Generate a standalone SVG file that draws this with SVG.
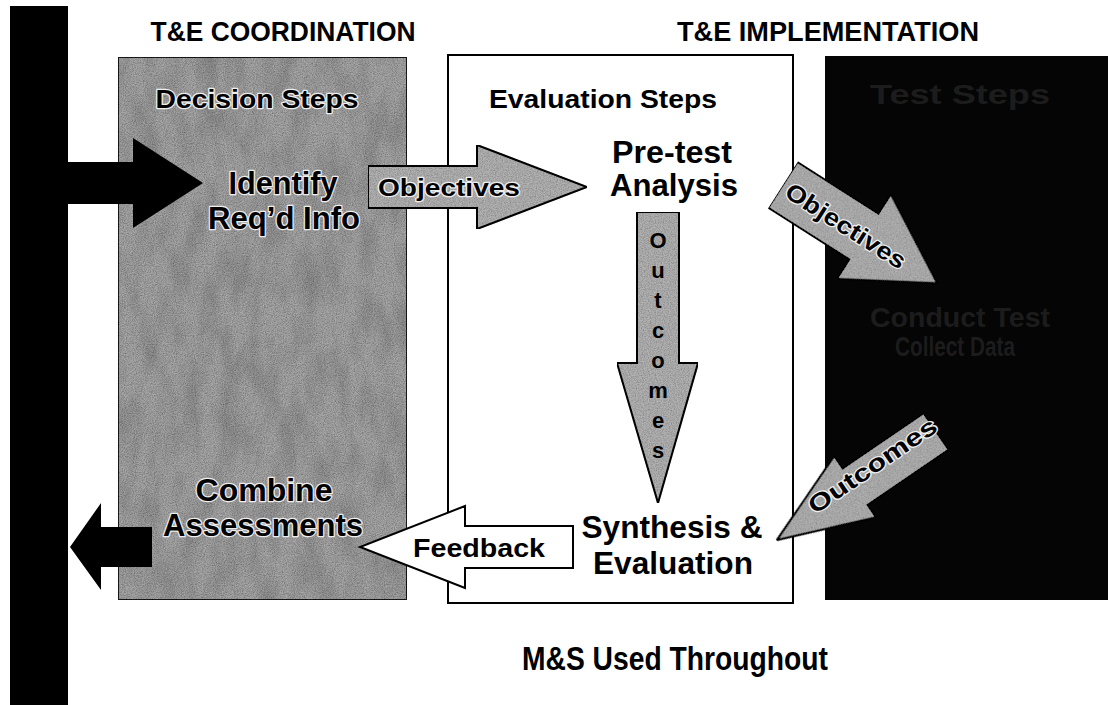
<svg xmlns="http://www.w3.org/2000/svg" width="1108" height="705" viewBox="0 0 1108 705">
<defs>
<filter id="grain" x="0" y="0" width="100%" height="100%">
<feTurbulence type="fractalNoise" baseFrequency="0.85" numOctaves="2" seed="4" result="n"/>
<feColorMatrix in="n" type="matrix" values="0 0 0 0 0  0 0 0 0 0  0 0 0 0 0  0.9 0 0 0 -0.3" result="d"/>
<feComposite in="d" in2="SourceGraphic" operator="in" result="dm"/>
<feMerge><feMergeNode in="SourceGraphic"/><feMergeNode in="dm"/></feMerge>
</filter>
<filter id="mottle" x="0" y="0" width="100%" height="100%">
<feTurbulence type="fractalNoise" baseFrequency="0.05 0.02" numOctaves="3" seed="7" result="m"/>
<feColorMatrix in="m" type="matrix" values="0 0 0 0 0  0 0 0 0 0  0 0 0 0 0  0.6 0 0 0 -0.22" result="md"/>
<feComposite in="md" in2="SourceGraphic" operator="in" result="mm"/>
<feTurbulence type="fractalNoise" baseFrequency="0.9" numOctaves="2" seed="2" result="n"/>
<feColorMatrix in="n" type="matrix" values="0 0 0 0 0  0 0 0 0 0  0 0 0 0 0  1.0 0 0 0 -0.3" result="d"/>
<feComposite in="d" in2="SourceGraphic" operator="in" result="dm"/>
<feMerge><feMergeNode in="SourceGraphic"/><feMergeNode in="mm"/><feMergeNode in="dm"/></feMerge>
</filter>
</defs>
<style>
text{font-family:"Liberation Sans",Arial,sans-serif;font-weight:bold;fill:#000}
.hdr{font-size:27px}
.halo{stroke:#eeeeee;stroke-width:2.5px;stroke-linejoin:round;paint-order:stroke}
.big{font-size:31px}
.mid{font-size:26px}
.lbl{font-size:24px}
.ltr{font-size:22px}
.faint{fill:#1c1c1c;font-size:27px}
.gray{fill:#b2b2b2;stroke:#000;stroke-width:2;filter:url(#grain)}
</style>
<rect width="1108" height="705" fill="#fff"/>

<g id="headers">
<text class="hdr" x="283" y="41" text-anchor="middle" textLength="265" lengthAdjust="spacingAndGlyphs">T&amp;E COORDINATION</text>
<text class="hdr" x="828" y="41" text-anchor="middle" textLength="302" lengthAdjust="spacingAndGlyphs">T&amp;E IMPLEMENTATION</text>
</g>

<g id="ms-bar">
<rect x="10" y="6" width="58" height="699" fill="#000"/>
</g>

<g id="decision-steps">
<rect x="118" y="57" width="289" height="543" fill="#a8a8a8" stroke="#222" stroke-width="2" filter="url(#mottle)"/>
<text class="mid halo" x="257" y="108" text-anchor="middle" textLength="203" lengthAdjust="spacingAndGlyphs">Decision Steps</text>
</g>

<g id="evaluation-steps">
<rect x="448" y="55" width="345" height="548" fill="#fff" stroke="#000" stroke-width="2"/>
<text class="mid" x="603" y="108" text-anchor="middle" textLength="228" lengthAdjust="spacingAndGlyphs">Evaluation Steps</text>
</g>

<g id="test-steps">
<rect x="825" y="56" width="283" height="544" fill="#050505"/>
<text class="faint" x="960" y="104" text-anchor="middle" textLength="180" lengthAdjust="spacingAndGlyphs">Test Steps</text>
<text class="faint" x="960" y="327" text-anchor="middle" textLength="180" lengthAdjust="spacingAndGlyphs">Conduct Test</text>
<text class="faint" x="955" y="356" text-anchor="middle" textLength="120" lengthAdjust="spacingAndGlyphs">Collect Data</text>
</g>

<g id="node-identify">
<text class="big halo" x="283" y="194" text-anchor="middle" textLength="109" lengthAdjust="spacingAndGlyphs">Identify</text>
<text class="big halo" x="284" y="229" text-anchor="middle" textLength="152" lengthAdjust="spacingAndGlyphs">Req’d Info</text>
</g>

<g id="node-combine">
<text class="big halo" x="264" y="501" text-anchor="middle" textLength="137" lengthAdjust="spacingAndGlyphs">Combine</text>
<text class="big halo" x="263" y="536" text-anchor="middle" textLength="200" lengthAdjust="spacingAndGlyphs">Assessments</text>
</g>

<g id="node-pretest">
<text class="big" x="672" y="163" text-anchor="middle" textLength="120" lengthAdjust="spacingAndGlyphs">Pre-test</text>
<text class="big" x="674" y="196" text-anchor="middle" textLength="128" lengthAdjust="spacingAndGlyphs">Analysis</text>
</g>

<g id="node-synthesis">
<text class="big" x="672" y="538" text-anchor="middle" textLength="181" lengthAdjust="spacingAndGlyphs">Synthesis &amp;</text>
<text class="big" x="673" y="574" text-anchor="middle" textLength="160" lengthAdjust="spacingAndGlyphs">Evaluation</text>
</g>

<g id="connectors">
<path d="M66,162 L133,162 L133,138 L203,183 L133,228 L133,204 L66,204 Z" fill="#000"/>
<path d="M152,527 L152,567 L101,567 L101,590 L70,547 L101,503 L101,527 Z" fill="#000"/>

<path class="gray" d="M368,166 L477,166 L477,145 L587,187 L477,229 L477,208 L368,208 Z"/>
<text class="lbl halo" x="449" y="196" text-anchor="middle" textLength="142" lengthAdjust="spacingAndGlyphs">Objectives</text>

<path class="gray" d="M637,212 L679,212 L679,363 L698,363 L658,503 L617,363 L637,363 Z"/>
<g class="ltr" text-anchor="middle">
<text x="658" y="248">O</text>
<text x="658" y="278">u</text>
<text x="658" y="308">t</text>
<text x="658" y="338">c</text>
<text x="658" y="368">o</text>
<text x="658" y="398">m</text>
<text x="658" y="428">e</text>
<text x="658" y="458">s</text>
</g>

<path d="M573,526 L573,568 L465,568 L465,588 L360,547 L465,506 L465,526 Z" fill="#fff" stroke="#000" stroke-width="2"/>
<text class="mid" x="479" y="557" text-anchor="middle" textLength="132" lengthAdjust="spacingAndGlyphs">Feedback</text>

<g transform="translate(783,185) rotate(32.5)">
<path class="gray" d="M0,-27 L96,-27 L96,-50 L182.5,0 L96,50 L96,27 L0,27 Z"/>
<text class="lbl halo" x="75" y="9" text-anchor="middle" textLength="138" lengthAdjust="spacingAndGlyphs">Objectives</text>
</g>

<g transform="translate(936,431.5) rotate(145.7)">
<path class="gray" d="M0,-22 L98,-22 L98,-37 L192.5,0 L98,37 L98,22 L0,22 Z"/>
</g>
<text class="lbl halo" transform="translate(872,465) rotate(-34.3)" x="0" y="9" text-anchor="middle" textLength="150" lengthAdjust="spacingAndGlyphs">Outcomes</text>
</g>

<g id="footer">
<text x="675" y="670" text-anchor="middle" font-size="33" textLength="306" lengthAdjust="spacingAndGlyphs">M&amp;S Used Throughout</text>
</g>
</svg>
